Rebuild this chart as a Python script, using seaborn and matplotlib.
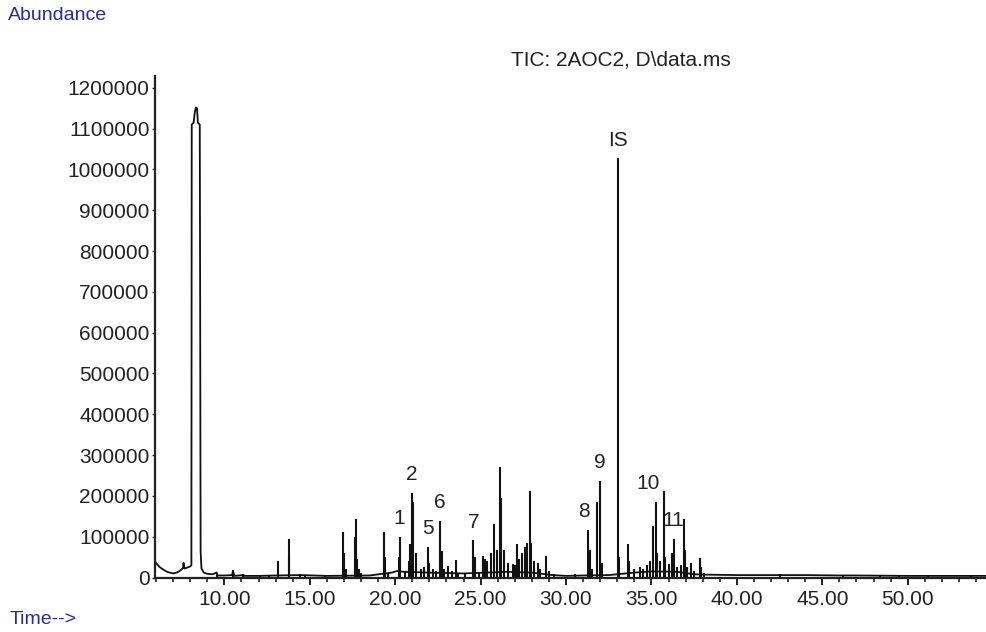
import numpy as np
import matplotlib
matplotlib.use('Agg')
import matplotlib.pyplot as plt
import seaborn as sns
from matplotlib.ticker import MultipleLocator, FormatStrFormatter, FuncFormatter

# baseline / solvent trace (time in min, abundance)
bl_time = [5.94, 6.05, 6.2, 6.4, 6.6, 6.8, 7.0, 7.2, 7.35, 7.5, 7.58, 7.61, 7.66, 7.8, 8.0, 8.07,
           8.09, 8.2, 8.27, 8.33, 8.40, 8.45, 8.56, 8.58, 8.61, 8.66, 8.8, 9.0, 9.3, 9.55, 9.6,
           10.0, 10.45, 10.5, 10.6, 11.1, 11.2, 12.0, 13.0, 14.5, 16.0, 18.5, 19.8, 20.1, 20.5,
           22.0, 24.0, 26.5, 28.0, 29.2, 30.0, 31.0, 32.5, 34.0, 35.0, 36.5, 37.5, 38.2,
           40.0, 42.0, 44.0, 46.0, 47.0, 50.0, 52.0, 54.58]
bl_abund = [40000, 33000, 26000, 20000, 15000, 12000, 10000, 12000, 15000, 20000, 24000, 36000, 22000, 24000, 27000, 30000,
            1110000, 1115000, 1140000, 1152000, 1150000, 1115000, 1110000, 740000, 64000, 22000, 12000, 9000, 8000, 12000, 5000,
            5000, 6000, 15000, 4000, 6000, 4000, 4000, 5000, 6000, 4000, 5000, 12000, 16000, 14000,
            12000, 10000, 14000, 12000, 6000, 4000, 5000, 6000, 12000, 15000, 14000, 8000, 7000,
            6000, 6000, 6000, 5000, 5000, 4000, 4000, 4000]

# peak apexes
peak_time = [9.56, 10.5, 11.1, 12.1, 12.6, 13.13, 13.76, 13.80, 14.4, 14.7, 15.9,
             16.97, 17.02, 17.10, 17.62, 17.71, 17.78, 17.9, 18.0,
             19.35, 19.42, 19.6, 20.23, 20.28, 20.6, 20.8, 20.88, 20.97, 21.06, 21.22, 21.5, 21.7,
             21.91, 22.0, 22.2, 22.4, 22.63, 22.73, 22.85, 23.11, 23.3, 23.56, 23.7, 24.1,
             24.57, 24.65, 24.9, 25.16, 25.25, 25.4, 25.6, 25.79, 25.98, 26.14, 26.20, 26.39, 26.6,
             26.88, 27.0, 27.15, 27.25, 27.45, 27.6, 27.70, 27.89, 27.95, 28.1, 28.35, 28.5, 28.83,
             29.0, 29.3, 30.5, 31.31, 31.38, 31.5, 31.84, 31.99, 32.08, 33.03, 33.12, 33.61, 33.68,
             34.0, 34.3, 34.5, 34.72, 34.9, 35.11, 35.27, 35.35, 35.5, 35.74, 35.8, 36.0, 36.22,
             36.32, 36.5, 36.7, 36.91, 36.97, 37.1, 37.3, 37.5, 37.84, 37.9, 38.1,
             42.5, 46.2, 48.4, 49.5, 51.2, 53.7]
peak_abund = [12000, 18000, 8000, 6000, 6000, 40000, 55000, 95000, 8000, 6000, 5000,
              112000, 60000, 20000, 100000, 144000, 45000, 20000, 10000,
              112000, 50000, 10000, 50000, 100000, 15000, 40000, 81000, 208000, 185000, 61000, 20000, 25000,
              74000, 35000, 20000, 15000, 138000, 64000, 20000, 28000, 15000, 44000, 10000, 8000,
              91000, 50000, 12000, 52000, 45000, 40000, 60000, 130000, 68000, 271000, 195000, 68000, 35000,
              34000, 30000, 82000, 45000, 60000, 75000, 85000, 211000, 85000, 40000, 35000, 20000, 52000,
              15000, 8000, 8000, 116000, 68000, 20000, 185000, 236000, 35000, 1027000, 50000, 81000, 40000,
              22000, 25000, 20000, 30000, 40000, 126000, 185000, 60000, 40000, 211000, 50000, 33000, 60000,
              95000, 25000, 30000, 144000, 68000, 25000, 35000, 15000, 49000, 25000, 10000,
              8000, 6000, 6000, 5000, 5000, 5000]

# labelled peaks: name, label centre time, apex height of labelled peak
label_names = ['1', '2', '5', '6', '7', '8', '9', '10', '11', 'IS']
label_times = [20.23, 20.96, 21.89, 22.63, 24.59, 31.02, 31.99, 34.82, 36.28, 33.04]
label_heights = [100000, 208000, 74000, 138000, 91000, 116000, 236000, 185000, 95000, 1027000]

sns.set_style('ticks')
plt.rcParams['font.family'] = ['Liberation Sans', 'DejaVu Sans']

fig = plt.figure(figsize=(9.86, 6.32), dpi=100)
ax = fig.add_axes([0.1572, 0.0862, 0.8428, 0.7935])

line_col = '#111111'
sns.lineplot(x=bl_time, y=bl_abund, sort=False, estimator=None, color=line_col, lw=1.3, ax=ax)
ax.vlines(peak_time, 0, peak_abund, color=line_col, lw=1.5)

for name, t, h in zip(label_names, label_times, label_heights):
    ax.text(t, h + 45000, name, ha='center', va='center', fontsize=15, color='#222222')

ax.set_xlim(5.94, 54.58)
ax.set_ylim(0, 1229000)
ax.xaxis.set_major_locator(MultipleLocator(5))
ax.xaxis.set_minor_locator(MultipleLocator(1))
ax.xaxis.set_major_formatter(FormatStrFormatter('%.2f'))
ax.yaxis.set_major_locator(MultipleLocator(100000))
ax.yaxis.set_major_formatter(FuncFormatter(lambda v, p: '%d' % v))
ax.set_xticks([10, 15, 20, 25, 30, 35, 40, 45, 50])

for s in ['top', 'right']:
    ax.spines[s].set_visible(False)
for s in ['left', 'bottom']:
    ax.spines[s].set_linewidth(1.6)
    ax.spines[s].set_color('#222222')

ax.tick_params(axis='y', length=2.5, width=1, pad=1.5, labelsize=15, colors='#222222')
ax.tick_params(axis='x', which='major', length=5, width=1.4, pad=4, labelsize=15, colors='#222222')
ax.tick_params(axis='x', which='minor', length=3, width=1.2, colors='#222222')
ax.set_xlabel('')
ax.set_ylabel('')

blue = '#2a2aa0'
fig.text(0.008, 0.976, 'Abundance', color=blue, fontsize=14, ha='left', va='center')
fig.text(0.010, 0.019, 'Time-->', color=blue, fontsize=14, ha='left', va='center')
fig.text(0.63, 0.905, 'TIC: 2AOC2, D\\data.ms', color='#222222', fontsize=15, ha='center', va='center')

fig.savefig('out.png', dpi=100)
